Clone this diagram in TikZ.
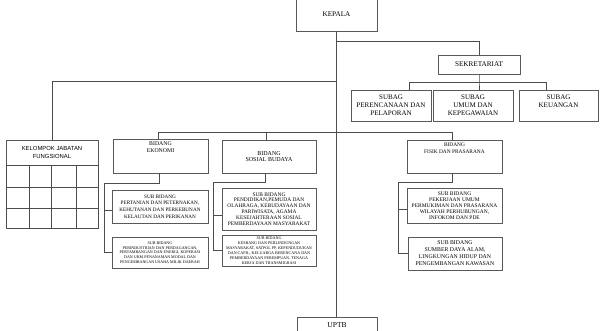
\documentclass[tikz,border=0pt]{standalone}
\usepackage{fontspec}
\setmainfont{Liberation Serif}
\newfontfamily\kelfont{Liberation Sans}
\newcommand\fs[2]{\fontsize{#1}{#2}\selectfont}
\newcommand\tbx[4]{\parbox[c][#2][t]{#1}{\centering\vspace{#3}#4}}
\begin{document}
\begin{tikzpicture}[x=1pt,y=-1pt,
  box/.style={draw=black!65,line width=0.9pt,rectangle,inner sep=0pt,outer sep=0pt,align=center,text=black},
  conn/.style={draw=black!70,line width=0.7pt},
  grid/.style={draw=black!70,line width=0.7pt}]
\useasboundingbox[fill=white] (0,0) rectangle (600,331);
% nodes
\node[box,minimum width=81pt,minimum height=34pt,font=\fs{7.2}{8}] (kepala) at (336.5,14) {KEPALA};
\node[box,minimum width=82pt,minimum height=19pt,font=\fs{7.2}{8}] (sek) at (479,64.5) {SEKRETARIAT};
\node[box,minimum width=80pt,minimum height=31pt,font=\fs{7}{8}] (sb1) at (391,105.5) {SUBAG\\PERENCANAAN DAN\\PELAPORAN};
\node[box,minimum width=80pt,minimum height=31pt,font=\fs{7}{8}] (sb2) at (473,105.5) {SUBAG\\UMUM DAN\\KEPEGAWAIAN};
\node[box,minimum width=79pt,minimum height=31pt] (sb3) at (558.5,105.5) {\tbx{79pt}{31pt}{4.5pt}{\fs{7}{8}SUBAG\\KEUANGAN}};
\node[box,minimum width=92pt,minimum height=25pt,font=\kelfont\fs{5.9}{8}] (kel) at (52,152.5) {KELOMPOK JABATAN\\FUNGSIONAL};
\node[box,minimum width=95pt,minimum height=34pt] (eko) at (160.5,156) {\tbx{95pt}{34pt}{3pt}{\fs{5.8}{7}BIDANG\\EKONOMI}};
\node[box,minimum width=94pt,minimum height=33pt,font=\fs{6}{6.5}] (sos) at (269,156.5) {BIDANG\\SOSIAL BUDAYA};
\node[box,minimum width=95pt,minimum height=33pt] (fis) at (454.5,156.5) {\tbx{95pt}{33pt}{3pt}{\fs{5.4}{7}BIDANG\\FISIK DAN PRASARANA}};
\node[box,minimum width=96pt,minimum height=33pt,font=\fs{5.2}{6.6}] (e1) at (160,206.5) {SUB BIDANG\\PERTANIAN DAN PETERNAKAN,\\KEHUTANAN DAN PERKEBUNAN\\KELAUTAN DAN PERIKANAN};
\node[box,minimum width=96pt,minimum height=31pt,font=\fs{4.05}{4.6}] (e2) at (160,252.5) {SUB BIDANG\\PERINDUSTRIAN DAN PERDAGANGAN,\\PERTAMBANGAN DAN ENERGI, KOPERASI\\DAN UKM PENANAMAN MODAL DAN\\PENGEMBANGAN USAHA MILIK DAERAH};
\node[box,minimum width=94pt,minimum height=42pt,font=\fs{5.4}{5.9}] (s1) at (269,209) {SUB BIDANG\\PENDIDIKAN,PEMUDA DAN\\OLAHRAGA, KEBUDAYAAN DAN\\PARIWISATA, AGAMA\\KESEJAHTERAAN SOSIAL\\PEMBERDAYAAN MASYARAKAT};
\node[box,minimum width=94pt,minimum height=31pt,font=\fs{4.1}{5}] (s2) at (269,250.5) {SUB BIDANG\\KESBANG DAN PERLINDUNGAN\\MASYARAKAT, SATPOL PP, KEPENDUDUKAN\\DAN CAPIL, KELUARGA BERENCANA DAN\\PEMBERDAYAAN PEREMPUAN, TENAGA\\KERJA DAN TRANSMIGRASI};
\node[box,minimum width=95pt,minimum height=35pt,font=\fs{5.5}{6}] (f1) at (454.5,205.5) {SUB BIDANG\\PEKERJAAN UMUM\\PERMUKIMAN DAN PRASARANA\\WILAYAH PERHUBUNGAN,\\INFOKOM DAN PDE};
\node[box,minimum width=94pt,minimum height=33pt,font=\fs{5.8}{7}] (f2) at (455,253.5) {SUB BIDANG\\SUMBER DAYA ALAM,\\LINGKUNGAN HIDUP DAN\\PENGEMBANGAN KAWASAN};
\node[box,minimum width=80pt,minimum height=16pt,font=\fs{7.5}{8}] (uptb) at (337,325) {UPTB};
% grid of kelompok jabatan fungsional
\draw[grid] (kel.south west) rectangle (kel.south east |- 0,228);
\draw[grid] (kel.south west |- 0,187) -- (kel.south east |- 0,187);
\draw[grid] (kel.south west |- 0,208) -- (kel.south east |- 0,208);
\draw[grid] (kel.south -| 29,0) -- (29,228);
\draw[grid] (kel.south -| 51,0) -- (51,228);
\draw[grid] (kel.south -| 76,0) -- (76,228);
% connectors
\coordinate (t1) at (kepala.south |- 0,41);
\coordinate (t2) at (kepala.south |- 0,81);
\coordinate (sj) at (sek.south |- 0,82);
\draw[conn] (kepala.south) -- (kepala.south |- uptb.north);
\draw[conn] (t1) -| (sek.north);
\draw[conn] (t2) -| (kel.north);
\draw[conn] (sek.south) -- (sj) -- (sj |- sb2.north);
\draw[conn] (sb1.north -| 409,0) -- (409,82) -- (546,82) -- (sb3.north -| 546,0);
\draw[conn] (eko.north -| 158,0) -- (158,132) -- (452,132) -- (fis.north -| 452,0);
\draw[conn] (266,132) -- (sos.north -| 266,0);
\draw[conn] (eko.south -| 159,0) -- (159,183) -- (104,183) |- (e2.west);
\draw[conn] (104,210) -- (e1.west |- 0,210);
\draw[conn] (sos.south -| 265,0) -- (265,182) -- (213,182) |- (s2.west);
\draw[conn] (213,215) -- (s1.west |- 0,215);
\draw[conn] (fis.south -| 452,0) -- (452,182) -- (398,182) |- (f2.west);
\draw[conn] (398,209) -- (f1.west |- 0,209);
\end{tikzpicture}
\end{document}
